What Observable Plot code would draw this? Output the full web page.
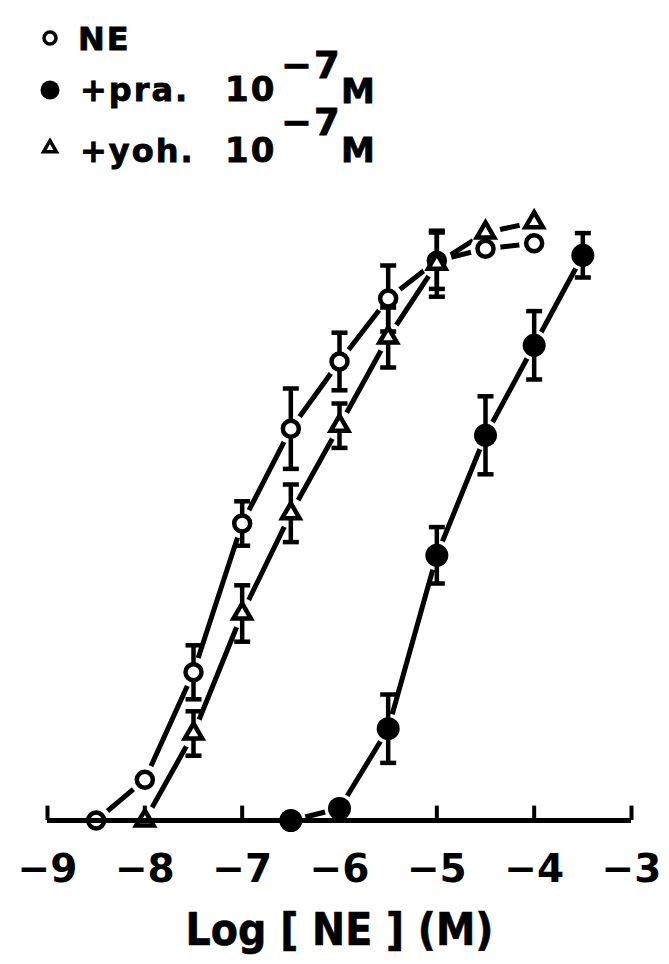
<!DOCTYPE html>
<html>
<head>
<meta charset="utf-8">
<script src="https://cdn.jsdelivr.net/npm/d3@7"></script>
<script src="https://cdn.jsdelivr.net/npm/@observablehq/plot@0.6"></script>
<style>
  html, body { margin: 0; padding: 0; background: #fff; }
  body { width: 669px; height: 964px; overflow: hidden; font-family: "DejaVu Sans", sans-serif; }
  #legend { height: 190px; }
  #legend svg, #chart svg { display: block; }
</style>
</head>
<body>
<div id="legend"></div>
<div id="chart"></div>
<script>
// ---- data (log molar NE concentration vs. response, % of max) ----
const neX   = [-8.5, -8, -7.5, -7, -6.5, -6, -5.5, -5, -4.5, -4];
const neY   = [0, 6.8, 24.7, 49.5, 65.3, 76.5, 87, 93.3, 95.3, 96.2];
const neErr = [0, 0, 4.5, 3.7, 6.7, 4.8, 5.5, 4.7, 0, 0];

const praX   = [-6.5, -6, -5.5, -5, -4.5, -4, -3.5];
const praY   = [0, 2, 15.3, 44.2, 64.2, 79.2, 94.2];
const praErr = [0, 0, 5.7, 4.7, 6.5, 5.7, 3.7];

const yohX   = [-8, -7.5, -7, -6.5, -6, -5.5, -5, -4.5, -4];
const yohY   = [0, 14.5, 34.5, 51.2, 65.8, 80.5, 92.8, 98, 99.7];
const yohErr = [0, 3.7, 4.7, 4.8, 3.7, 5, 5.5, 0, 0];

const xTicks = [-9, -8, -7, -6, -5, -4, -3];
const seriesNames = ["NE", "+pra.", "+yoh."];
const concBase = "10";
const concExp = "\u22127";
const concUnit = "M";
const axisTitle = "Log [ NE ] (M)";

// ---- build table ----
function series(name, xs, ys, es) {
  return xs.map((x, i) => ({s: name, x, y: ys[i], e: es[i]}));
}
const ne = series(seriesNames[0], neX, neY, neErr);
const pra = series(seriesNames[1], praX, praY, praErr);
const yoh = series(seriesNames[2], yohX, yohY, yohErr);
const rows = [...ne, ...pra, ...yoh];
const err = rows.filter(d => d.e > 0);

// ---- legend (above the chart) ----
const font = "'DejaVu Sans', sans-serif";
const L = d3.select("#legend").append("svg").attr("width", 669).attr("height", 190);
L.append("circle").attr("cx", 50).attr("cy", 38).attr("r", 6)
  .attr("fill", "white").attr("stroke", "black").attr("stroke-width", 3.5);
L.append("circle").attr("cx", 50).attr("cy", 90).attr("r", 9.5).attr("fill", "black");
L.append("path").attr("transform", "translate(50,148)")
  .attr("d", d3.symbol(d3.symbolTriangle, 70)())
  .attr("fill", "white").attr("stroke", "black").attr("stroke-width", 3.5);
const txt = (x, y, s, size) => L.append("text").attr("x", x).attr("y", y)
  .attr("font-family", font).attr("font-weight", "bold").attr("font-size", size)
  .attr("letter-spacing", 2).attr("fill", "black").attr("stroke", "black").attr("stroke-width", 0.8).text(s);
txt(78, 50, seriesNames[0], 32);
[[101, 78, 103], [162, 135, 162]].forEach(([base, expBase, mBase], i) => {
  txt(80, base, seriesNames[i + 1], 32);
  txt(225, base, concBase, 34);
  txt(281, expBase, concExp, 37);
  txt(341, mBase, concUnit, 34);
});

// ---- chart ----
const capSymbol = {
  draw(ctx, size) {
    const r = Math.sqrt(size / Math.PI);
    ctx.moveTo(-r, 0);
    ctx.lineTo(r, 0);
  }
};

const chart = Plot.plot({
  width: 669,
  height: 774,
  marginLeft: 47,
  marginRight: 38,
  marginTop: 30,
  marginBottom: 144,
  x: {domain: [-9, -3], label: null},
  y: {domain: [0, 100], axis: null},
  style: {fontFamily: font, background: "white", color: "black", overflow: "visible"},
  marks: [
    Plot.line(rows, {x: "x", y: "y", z: "s", stroke: "black", strokeWidth: 5}),
    Plot.dot(rows, {x: "x", y: "y", r: 15, fill: "white"}),
    Plot.ruleX(xTicks, {x: d => d, y1: 0, y2: 2.4, stroke: "black", strokeWidth: 4}),
    Plot.ruleX(err, {x: "x", y1: d => d.y - d.e, y2: d => d.y + d.e, stroke: "black", strokeWidth: 4.5}),
    Plot.dot(err, {x: "x", y: d => d.y + d.e, symbol: capSymbol, r: 8, stroke: "black", strokeWidth: 4.5}),
    Plot.dot(err, {x: "x", y: d => d.y - d.e, symbol: capSymbol, r: 8, stroke: "black", strokeWidth: 4.5}),
    Plot.dot(pra, {x: "x", y: "y", r: 11.5, fill: "black", stroke: "none"}),
    Plot.dot(ne, {x: "x", y: "y", r: 8, fill: "white", stroke: "black", strokeWidth: 4.5}),
    Plot.dot(yoh, {x: "x", y: "y", symbol: "triangle", r: 6.5, fill: "white", stroke: "black", strokeWidth: 4.5}),
    Plot.ruleY([0], {x1: xTicks[0], x2: xTicks[xTicks.length - 1], stroke: "black", strokeWidth: 5}),
    Plot.axisX(xTicks, {label: null, tickSize: 0, tickPadding: 34, fontSize: 39, fontWeight: "bold",
      fontFamily: font, fill: "black", stroke: "black", strokeWidth: 0.8}),
    Plot.text([axisTitle], {text: d => d, frameAnchor: "bottom", dy: 124, fontSize: 44, fontWeight: "bold",
      fontFamily: "'DejaVu Sans Condensed', 'DejaVu Sans', sans-serif", fill: "black", stroke: "black", strokeWidth: 0.6})
  ]
});
document.getElementById("chart").appendChild(chart);
</script>
</body>
</html>
